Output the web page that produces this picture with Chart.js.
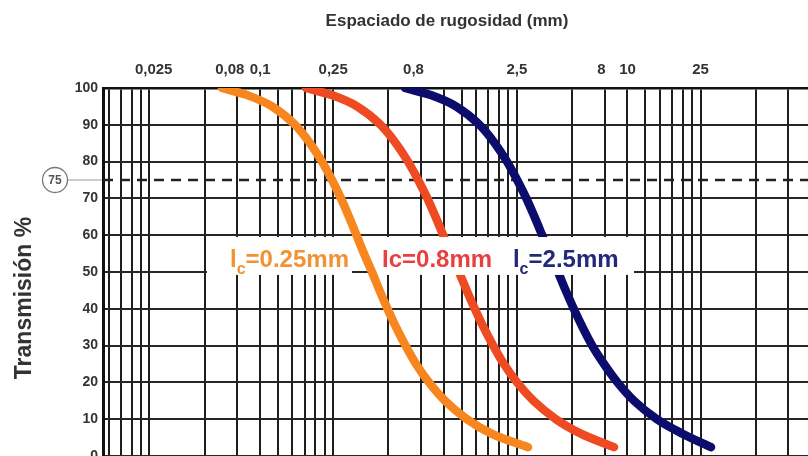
<!DOCTYPE html>
<html><head><meta charset="utf-8">
<script src="https://cdn.jsdelivr.net/npm/chart.js@4.4.1/dist/chart.umd.min.js"></script>
<style>html,body{margin:0;padding:0;background:#fff}#wrap{width:808px;height:456px;position:relative}</style>
</head><body><div id="wrap"><canvas id="c"></canvas></div>
<script>
// ---------- data ----------
const xTitle = 'Espaciado de rugosidad (mm)';
const yTitle = 'Transmisión %';
const tickValues = [0.025, 0.08, 0.1, 0.25, 0.8, 2.5, 8, 10, 25];
const tickLabels = ['  0,025', '0,08      ', '0,1', '0,25', '0,8      ', '2,5', '8    ', '10', '25'];
const gridValues = [0.015, 0.0175, 0.02, 0.0225, 0.025, 0.05, 0.075, 0.1, 0.125, 0.15, 0.175, 0.2, 0.225, 0.25,
                    0.5, 0.75, 1, 1.25, 1.5, 1.75, 2, 2.25, 2.5, 5, 7.5, 10, 12.5, 15, 17.5, 20, 22.5, 25, 50, 75];
const yTickValues = [0, 10, 20, 30, 40, 50, 60, 70, 80, 90, 100];
const seriesNames = ['lc=0.25mm', 'Ic=0.8mm', 'lc=2.5mm'];
const seriesSubscript = [true, false, true];
const transmissionLevels = [100, 98, 95, 90, 85, 80, 75, 70, 65, 60, 55, 50, 45, 40, 35, 30, 25, 20, 15, 10, 6, 2.4];
const lc025X = [0.0620, 0.0859, 0.1161, 0.1549, 0.1869, 0.2173, 0.2463, 0.2757, 0.3048, 0.3349, 0.3678,
                0.4066, 0.4468, 0.4938, 0.5494, 0.6188, 0.7058, 0.8307, 1.0153, 1.3374, 1.8296, 2.873];
const lc08X  = [0.1778, 0.2478, 0.3371, 0.4523, 0.5481, 0.6385, 0.7255, 0.8142, 0.9015, 0.9928, 1.0918,
                1.2097, 1.3325, 1.4748, 1.645, 1.8575, 2.124, 2.506, 3.078, 4.078, 5.61, 8.445];
const lc25X  = [0.615, 0.857, 1.1655, 1.564, 1.895, 2.2085, 2.509, 2.815, 3.117, 3.433, 3.776,
                4.185, 4.608, 5.10, 5.69, 6.425, 7.45, 8.82, 10.85, 14.47, 20.05, 28.49];
const referenceLevel = 75;

// ---------- layout / style ----------
const X_MIN = 0.01396, X_MAX = 96.1;
const FONT = "'Liberation Sans', Arial, Helvetica, sans-serif";
const COLORS = ['#F7861E', '#EF4B22', '#0C0C6C'];
const LABEL_COLORS = ['#F29233', '#E8403F', '#23287A'];
const labelAnchors = [[0.0686, 51.4], [0.461, 51.4], [2.38, 51.4]]; // data coords (x, baseline y)
const boxSpans = [[0.0514, 0.3165], [0.417, 10.85]];
const boxY = [49.2, 59.5];

const allTicks = Array.from(new Set([...gridValues, ...tickValues])).sort((a, b) => a - b);
const labelMap = new Map(tickValues.map((v, i) => [v, tickLabels[i]]));
const gridSet = new Set(gridValues);
const pts = (xs, ys) => xs.map((x, i) => ({x, y: ys[i]}));

const decor = {
  id: 'decor',
  beforeDatasetDraw(chart, args) {
    if (args.index !== 0) return;
    const {ctx, scales: {x, y}} = chart;
    ctx.save();
    ctx.fillStyle = '#fff';
    const top = y.getPixelForValue(boxY[1]), bot = y.getPixelForValue(boxY[0]);
    for (const [a, b] of boxSpans) {
      const p0 = x.getPixelForValue(a), p1 = x.getPixelForValue(b);
      ctx.fillRect(p0, top, p1 - p0, bot - top);
    }
    ctx.restore();
  },
  afterDatasetsDraw(chart) {
    const {ctx, scales: {x, y}} = chart;
    ctx.save();
    ctx.textBaseline = 'alphabetic';
    ctx.textAlign = 'left';
    seriesNames.forEach((name, i) => {
      let px = x.getPixelForValue(labelAnchors[i][0]);
      const py = y.getPixelForValue(labelAnchors[i][1]);
      ctx.fillStyle = LABEL_COLORS[i];
      const big = 'bold 24px ' + FONT, small = 'bold 16px ' + FONT;
      if (seriesSubscript[i]) {
        ctx.font = big; ctx.fillText(name[0], px, py); px += ctx.measureText(name[0]).width;
        ctx.font = small; ctx.fillText(name[1], px, py + 7); px += ctx.measureText(name[1]).width;
        ctx.font = big; ctx.fillText(name.slice(2), px, py);
      } else {
        ctx.font = big; ctx.fillText(name, px, py);
      }
    });
    ctx.restore();
  },
  afterDraw(chart) {
    const {ctx, scales: {y}} = chart;
    ctx.save();
    ctx.fillStyle = '#333';
    ctx.textAlign = 'center';
    ctx.textBaseline = 'middle';
    ctx.font = 'bold 17px ' + FONT;
    ctx.fillText(xTitle, 447, 21);
    ctx.save();
    ctx.translate(25, 298);
    ctx.rotate(-Math.PI / 2);
    ctx.font = 'bold 23px ' + FONT;
    ctx.fillText(yTitle, 0, 0);
    ctx.restore();
    const cy = y.getPixelForValue(referenceLevel);
    ctx.strokeStyle = '#999';
    ctx.lineWidth = 1;
    ctx.beginPath(); ctx.moveTo(68, cy); ctx.lineTo(102, cy); ctx.stroke();
    ctx.strokeStyle = '#777';
    ctx.lineWidth = 1.3;
    ctx.beginPath(); ctx.arc(55, cy, 12.5, 0, Math.PI * 2); ctx.stroke();
    ctx.fillStyle = '#555';
    ctx.font = 'bold 12px ' + FONT;
    ctx.fillText(String(referenceLevel), 55, cy + 1);
    ctx.restore();
  }
};

const curveStyle = {borderWidth: 8.5, pointRadius: 0, cubicInterpolationMode: 'monotone',
                    borderCapStyle: 'round', borderJoinStyle: 'round', fill: false};

new Chart(document.getElementById('c'), {
  type: 'line',
  data: {
    datasets: [
      Object.assign({label: seriesNames[0], data: pts(lc025X, transmissionLevels), borderColor: COLORS[0]}, curveStyle),
      Object.assign({label: seriesNames[1], data: pts(lc08X, transmissionLevels), borderColor: COLORS[1]}, curveStyle),
      Object.assign({label: seriesNames[2], data: pts(lc25X, transmissionLevels), borderColor: COLORS[2]}, curveStyle),
      {label: 'ref', data: [{x: X_MIN, y: referenceLevel}, {x: X_MAX, y: referenceLevel}], borderColor: '#222',
       borderWidth: 2.5, borderDash: [10, 7], pointRadius: 0, fill: false}
    ]
  },
  options: {
    responsive: true,
    maintainAspectRatio: false,
    animation: false,
    events: [],
    layout: {padding: 0},
    plugins: {legend: {display: false}, tooltip: {enabled: false}, title: {display: false}},
    scales: {
      x: {
        type: 'logarithmic', position: 'top', min: X_MIN, max: X_MAX, bounds: 'data',
        afterBuildTicks: (s) => { s.ticks = allTicks.map(v => ({value: v})); },
        afterFit: (s) => { s.height = 88; s.paddingLeft = 0; s.paddingRight = 0; },
        grid: {
          drawTicks: false, lineWidth: 2,
          color: (c) => (c.tick && gridSet.has(c.tick.value)) ? '#1e1e1e' : 'rgba(0,0,0,0)'
        },
        border: {display: true, color: '#111', width: 2.5},
        ticks: {
          autoSkip: false, maxRotation: 0, minRotation: 0, padding: 9, color: '#333',
          font: {family: FONT, size: 15, weight: 'bold'},
          callback: (v) => labelMap.has(v) ? labelMap.get(v) : ''
        }
      },
      y: {
        type: 'linear', min: 0, max: 100,
        afterBuildTicks: (s) => { s.ticks = yTickValues.map(v => ({value: v})); },
        afterFit: (s) => { s.width = 103; s.paddingTop = 0; s.paddingBottom = 0; },
        grid: {drawTicks: false, lineWidth: 2, color: '#262626'},
        border: {display: true, color: '#111', width: 3},
        ticks: {padding: 5, color: '#333', font: {family: FONT, size: 14, weight: 'bold'}, autoSkip: false}
      }
    }
  },
  plugins: [decor]
});
</script>
</body></html>
